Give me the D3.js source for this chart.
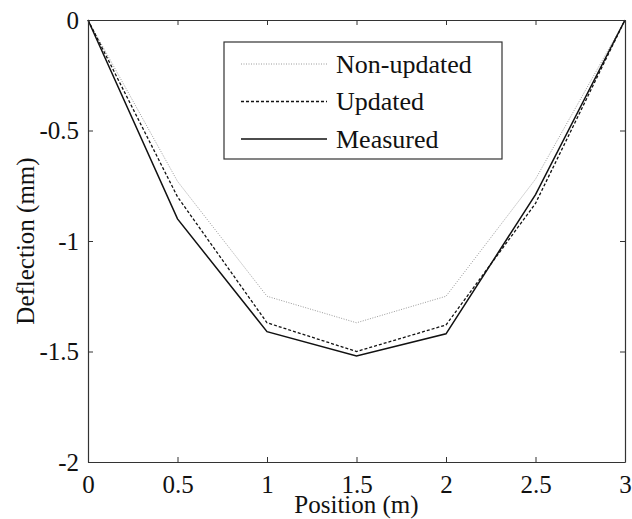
<!DOCTYPE html>
<html lang="en">
<head>
<meta charset="UTF-8">
<script src="https://d3js.org/d3.v7.min.js"></script>
<style>
  body { margin: 0; background: #fff; }
  svg { font-family: "Liberation Serif", "DejaVu Serif", serif; }
</style>
</head>
<body>
<svg width="632" height="519"></svg>
<script>
// data
const positions = [0, 0.5, 1, 1.5, 2, 2.5, 3];
const nonUpdated = [0, -0.73, -1.25, -1.37, -1.25, -0.72, 0];
const updated    = [0, -0.80, -1.37, -1.50, -1.38, -0.83, 0];
const measured   = [0, -0.90, -1.41, -1.52, -1.42, -0.79, 0];
const xTicks = [0, 0.5, 1, 1.5, 2, 2.5, 3];
const yTicks = [0, -0.5, -1, -1.5, -2];

const svg = d3.select("svg");
const m = {left: 88, right: 7, top: 20, bottom: 57};
const width = 632, height = 519;

const x = d3.scaleLinear().domain([0, 3]).range([m.left, width - m.right]);
const y = d3.scaleLinear().domain([-2, 0]).range([height - m.bottom, m.top]);

const series = [
  {name: "Non-updated", values: nonUpdated, color: "#9a9a9a", dash: "1,1.5", w: 1},
  {name: "Updated", values: updated, color: "#111", dash: "3,2", w: 1.3},
  {name: "Measured", values: measured, color: "#111", dash: null, w: 1.5}
];

const line = d3.line().x((d, i) => x(positions[i])).y(d => y(d));

svg.selectAll(".series")
  .data(series)
  .enter()
  .append("path")
  .attr("fill", "none")
  .attr("stroke", d => d.color)
  .attr("stroke-width", d => d.w)
  .attr("stroke-dasharray", d => d.dash)
  .attr("d", d => line(d.values));

// axes, ticks pointing inward, box all round
const axStyle = g => {
  g.select(".domain").attr("stroke", "#333").attr("stroke-width", 1.2);
  g.selectAll(".tick line").attr("stroke", "#333");
  g.selectAll("text").attr("font-family", "Liberation Serif").attr("font-size", 25).attr("fill", "#111");
};

svg.append("g")
  .attr("transform", `translate(0,${height - m.bottom})`)
  .call(d3.axisBottom(x).tickValues(xTicks).tickFormat(d3.format("")).tickSize(-5).tickSizeOuter(0).tickPadding(13))
  .call(axStyle);

svg.append("g")
  .attr("transform", `translate(0,${m.top})`)
  .call(d3.axisTop(x).tickValues(xTicks).tickFormat("").tickSize(-5).tickSizeOuter(0))
  .call(axStyle);

svg.append("g")
  .attr("transform", `translate(${m.left},0)`)
  .call(d3.axisLeft(y).tickValues(yTicks).tickFormat(d => d3.format("")(d).replace("−", "-")).tickSize(-5).tickSizeOuter(0).tickPadding(9))
  .call(axStyle);

svg.append("g")
  .attr("transform", `translate(${width - m.right},0)`)
  .call(d3.axisRight(y).tickValues(yTicks).tickFormat("").tickSize(-5).tickSizeOuter(0))
  .call(axStyle);

// axis titles
svg.append("text")
  .attr("x", (m.left + width - m.right) / 2)
  .attr("y", 513)
  .attr("text-anchor", "middle")
  .attr("font-size", 25)
  .attr("fill", "#111")
  .text("Position (m)");

svg.append("text")
  .attr("transform", `translate(34,${(m.top + height - m.bottom) / 2}) rotate(-90)`)
  .attr("text-anchor", "middle")
  .attr("font-size", 25)
  .attr("fill", "#111")
  .text("Deflection (mm)");

// legend
const lg = svg.append("g").attr("transform", "translate(224,42)");
lg.append("rect")
  .attr("width", 278).attr("height", 117)
  .attr("fill", "#fff").attr("stroke", "#333").attr("stroke-width", 1.2);

const rows = lg.selectAll(".row")
  .data(series)
  .enter()
  .append("g")
  .attr("transform", (d, i) => `translate(0,${22 + i * 37.5})`);

rows.append("line")
  .attr("x1", 17).attr("x2", 103)
  .attr("stroke", d => d.color)
  .attr("stroke-width", d => d.w)
  .attr("stroke-dasharray", d => d.dash);

rows.append("text")
  .attr("x", 112).attr("y", 8.5)
  .attr("font-size", 26)
  .attr("fill", "#111")
  .text(d => d.name);
</script>
</body>
</html>
